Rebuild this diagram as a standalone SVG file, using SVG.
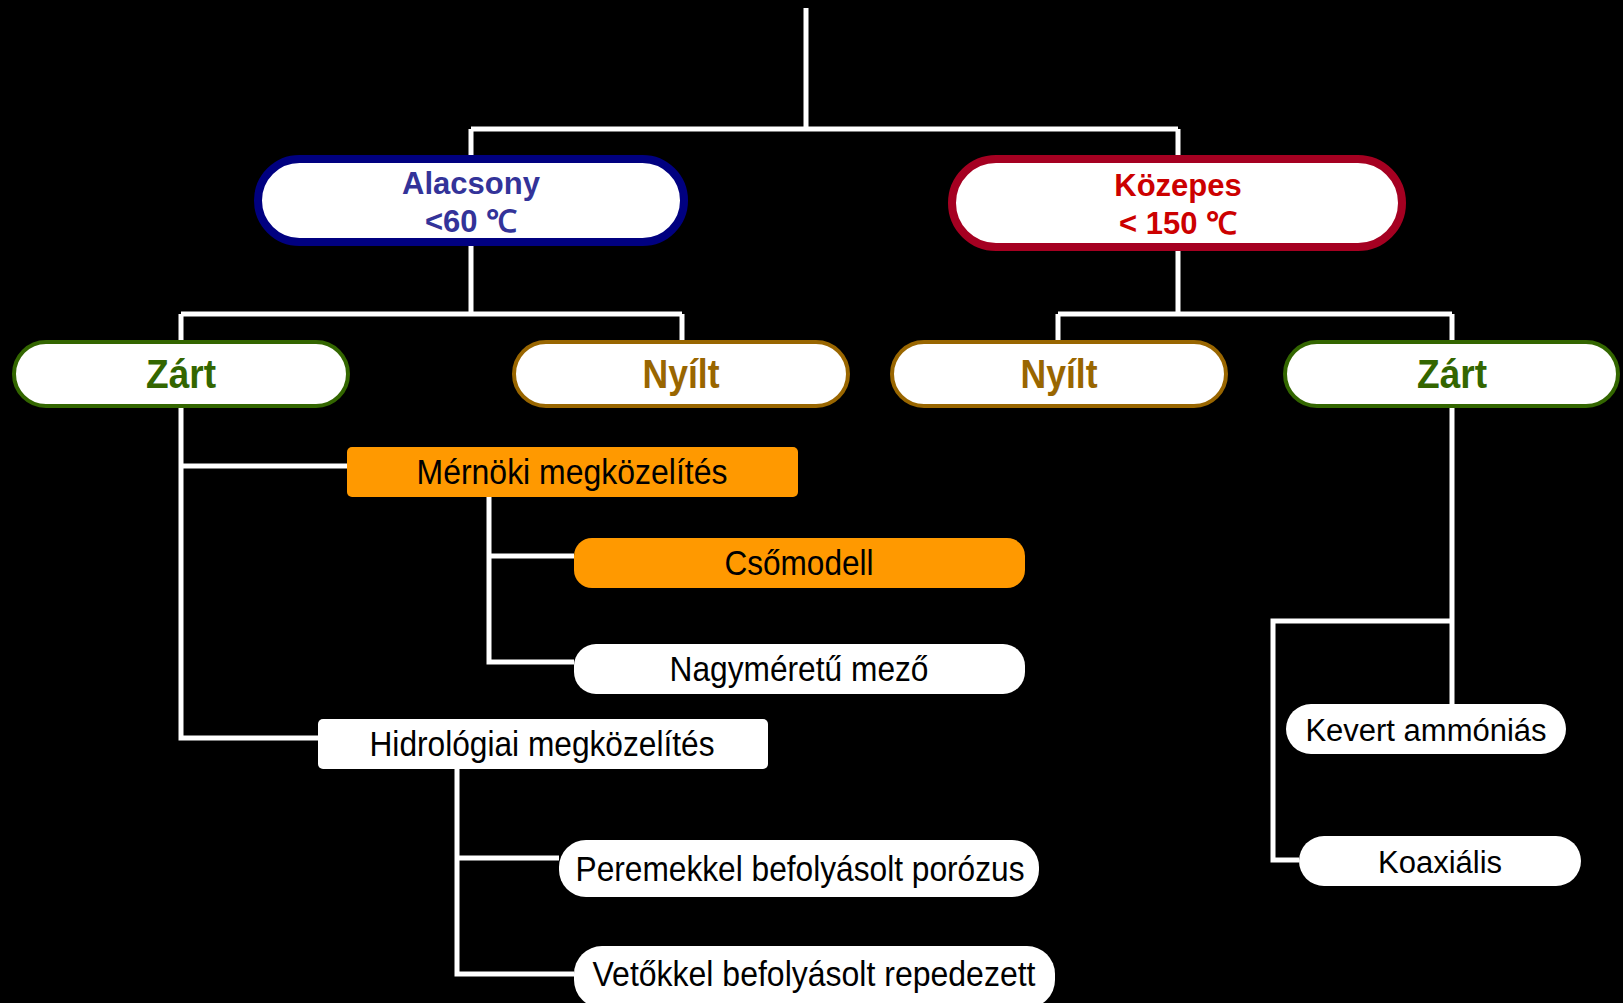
<svg xmlns="http://www.w3.org/2000/svg" width="1623" height="1003" viewBox="0 0 1623 1003">
<style>
.bg{fill:#000}
.c{fill:none;stroke:#fff;stroke-width:5}
.t{font-family:"Liberation Sans",Arial,sans-serif;text-anchor:middle}
.b{font-weight:bold}
.w{fill:#fff}
.o{fill:#FF9900}
.k{fill:#000}
</style>
<rect class="bg" x="0" y="0" width="1623" height="1003"/>
<g id="connectors">
<path class="c" d="M806,8V129M471,129H1178M471,129V157M1178,129V157"/>
<path class="c" d="M471,244V314M181,314H682M181,314V340M682,314V340"/>
<path class="c" d="M1178,249V314M1058,314H1452M1058,314V340M1452,314V340"/>
<path class="c" d="M181,408V738H318M181,466H347"/>
<path class="c" d="M489,497V662H574M489,556H574"/>
<path class="c" d="M457,769V974H574M457,858H559"/>
<path class="c" d="M1452,408V704M1452,621H1273V860H1299"/>
</g>
<g id="alacsony">
<rect x="258" y="159" width="426" height="83" rx="41.5" fill="#fff" stroke="#000080" stroke-width="8"/>
<text class="t b" x="471" y="194" font-size="31" fill="#333399">Alacsony</text>
<text class="t b" x="471" y="232" font-size="31" fill="#333399">&lt;60 ℃</text>
</g>
<g id="kozepes">
<rect x="952" y="159" width="450" height="88" rx="44" fill="#fff" stroke="#A50021" stroke-width="8"/>
<text class="t b" x="1178" y="196" font-size="31" fill="#CC0000">Közepes</text>
<text class="t b" x="1178" y="234" font-size="31" fill="#CC0000">&lt; 150 ℃</text>
</g>
<g id="zart-left">
<rect x="14" y="342" width="334" height="64" rx="32" fill="#fff" stroke="#336600" stroke-width="4"/>
<text class="t b" x="181" y="388" font-size="40" fill="#336600" textLength="70" lengthAdjust="spacingAndGlyphs">Zárt</text>
</g>
<g id="nyilt-left">
<rect x="514" y="342" width="334" height="64" rx="32" fill="#fff" stroke="#996600" stroke-width="4"/>
<text class="t b" x="681" y="388" font-size="40" fill="#996600" textLength="77" lengthAdjust="spacingAndGlyphs">Nyílt</text>
</g>
<g id="nyilt-right">
<rect x="892" y="342" width="334" height="64" rx="32" fill="#fff" stroke="#996600" stroke-width="4"/>
<text class="t b" x="1059" y="388" font-size="40" fill="#996600" textLength="77" lengthAdjust="spacingAndGlyphs">Nyílt</text>
</g>
<g id="zart-right">
<rect x="1285" y="342" width="333" height="64" rx="32" fill="#fff" stroke="#336600" stroke-width="4"/>
<text class="t b" x="1452" y="388" font-size="40" fill="#336600" textLength="70" lengthAdjust="spacingAndGlyphs">Zárt</text>
</g>
<g id="mernoki">
<rect class="o" x="347" y="447" width="451" height="50" rx="5"/>
<text class="t k" x="572" y="484" font-size="35" textLength="311" lengthAdjust="spacingAndGlyphs">Mérnöki megközelítés</text>
</g>
<g id="csomodell">
<rect class="o" x="574" y="538" width="451" height="50" rx="18"/>
<text class="t k" x="799" y="575" font-size="35" textLength="149" lengthAdjust="spacingAndGlyphs">Csőmodell</text>
</g>
<g id="nagymeretu">
<rect class="w" x="574" y="644" width="451" height="50" rx="22"/>
<text class="t k" x="799" y="681" font-size="35" textLength="259" lengthAdjust="spacingAndGlyphs">Nagyméretű mező</text>
</g>
<g id="hidrologiai">
<rect class="w" x="318" y="719" width="450" height="50" rx="5"/>
<text class="t k" x="542" y="756" font-size="35" textLength="345" lengthAdjust="spacingAndGlyphs">Hidrológiai megközelítés</text>
</g>
<g id="peremekkel">
<rect class="w" x="559" y="840" width="480" height="57" rx="27"/>
<text class="t k" x="800" y="881" font-size="35" textLength="449" lengthAdjust="spacingAndGlyphs">Peremekkel befolyásolt porózus</text>
</g>
<g id="vetokkel">
<rect class="w" x="574" y="946" width="481" height="62" rx="28"/>
<text class="t k" x="814" y="986" font-size="35" textLength="443" lengthAdjust="spacingAndGlyphs">Vetőkkel befolyásolt repedezett</text>
</g>
<g id="kevert">
<rect class="w" x="1286" y="704" width="280" height="50" rx="25"/>
<text class="t k" x="1426" y="741" font-size="31">Kevert ammóniás</text>
</g>
<g id="koaxialis">
<rect class="w" x="1299" y="836" width="282" height="50" rx="25"/>
<text class="t k" x="1440" y="873" font-size="31">Koaxiális</text>
</g>
</svg>
